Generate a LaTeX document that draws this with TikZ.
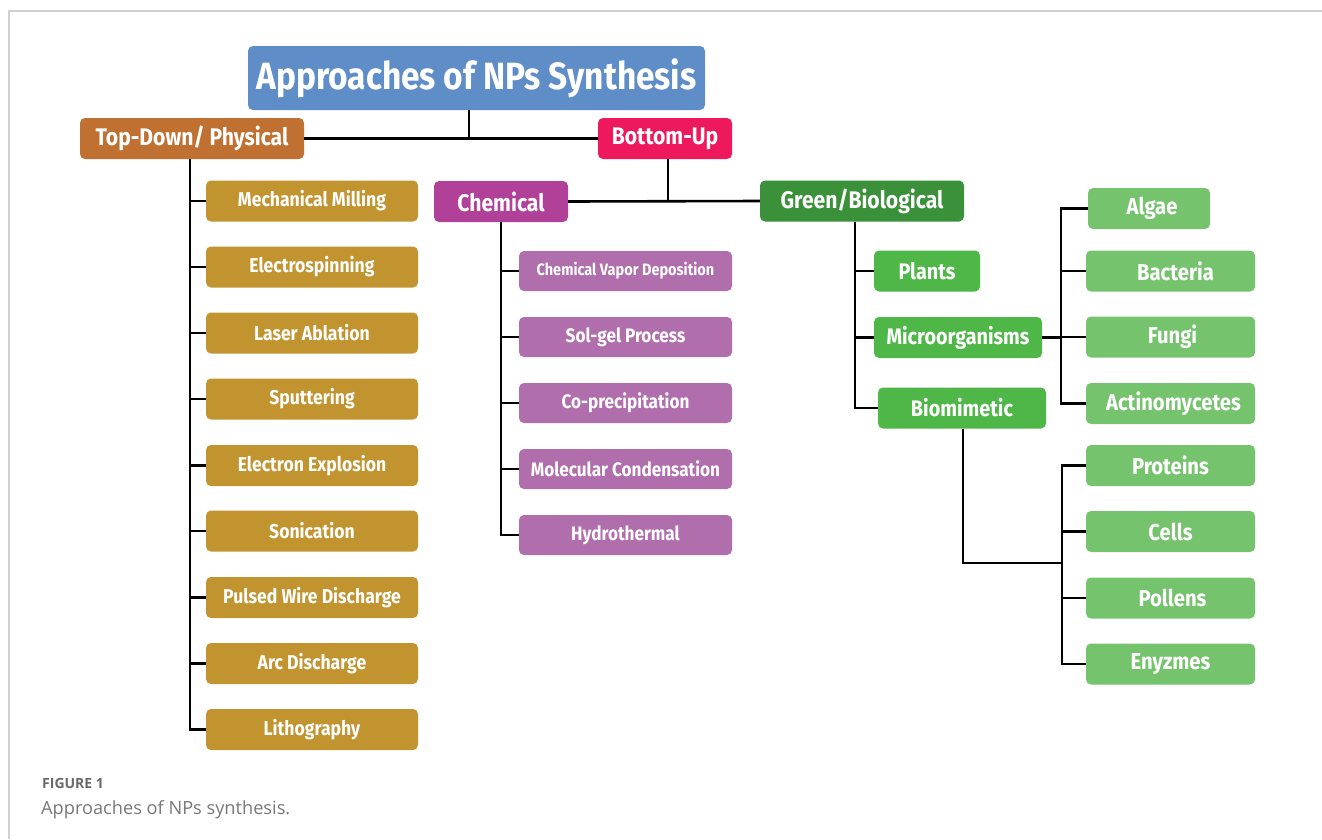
\documentclass[tikz,border=0pt]{standalone}
\usepackage{fontspec}
\setmainfont{Open Sans}
\newfontfamily\boxfont{Fira Sans}[FakeStretch=0.88]
\usetikzlibrary{positioning}

\definecolor{cTitle}{RGB}{95,141,200}
\definecolor{cTop}{RGB}{192,112,48}
\definecolor{cBottom}{RGB}{237,25,92}
\definecolor{cPhys}{RGB}{194,148,48}
\definecolor{cChem}{RGB}{176,64,152}
\definecolor{cChemItem}{RGB}{176,110,172}
\definecolor{cGreen}{RGB}{58,145,57}
\definecolor{cMid}{RGB}{78,183,72}
\definecolor{cLight}{RGB}{118,195,110}
\definecolor{cFrame}{RGB}{208,208,208}
\definecolor{cCap}{RGB}{105,105,105}

\tikzset{
  box/.style={rounded corners=5pt, text=white, inner sep=0pt, align=center,
              font=\boxfont\bfseries},
  titlebox/.style={box, fill=cTitle, minimum width=457, minimum height=64,
                   font=\boxfont\bfseries\fontsize{38}{40}\selectfont},
  headbox/.style={box, minimum height=41, font=\boxfont\bfseries\fontsize{24}{26}\selectfont},
  physbox/.style={box, fill=cPhys, minimum width=212, minimum height=41,
                  font=\boxfont\bfseries\fontsize{20}{22}\selectfont},
  chembox/.style={box, fill=cChemItem, minimum width=213, minimum height=40,
                  font=\boxfont\bfseries\fontsize{19.5}{22}\selectfont},
  greenbox/.style={box, fill=cMid, minimum height=41,
                   font=\boxfont\bfseries\fontsize{22.5}{24}\selectfont},
  leafbox/.style={box, fill=cLight, minimum width=169, minimum height=41,
                  font=\boxfont\bfseries\fontsize{23}{25}\selectfont},
  link/.style={draw=black, line width=2.6pt},
}

\begin{document}
\begin{tikzpicture}[x=1pt, y=-1pt]
  \useasboundingbox (0,0) rectangle (1322,839);

  % page frame
  \draw[cFrame, line width=1.2pt] (9,839) -- (9,11) -- (1322,11);

  % top levels
  \node[titlebox] (title) at (476.5,78) {Approaches of NPs Synthesis};
  \node[headbox, fill=cTop, minimum width=224] (td) at (192,138.5) {Top-Down/ Physical};
  \node[headbox, fill=cBottom, minimum width=134] (bu) at (665,138.5) {Bottom-Up};
  \node[headbox, fill=cChem, minimum width=134] (chem) at (501,201.5) {Chemical};
  \node[headbox, fill=cGreen, minimum width=204] (green) at (862,201) {Green/Biological};

  % physical methods
  \node[physbox] (p1) at (312,201) {Mechanical Milling};
  \node[physbox] (p2) at (312,267) {Electrospinning};
  \node[physbox] (p3) at (312,333) {Laser Ablation};
  \node[physbox] (p4) at (312,399) {Sputtering};
  \node[physbox] (p5) at (312,465.5) {Electron Explosion};
  \node[physbox] (p6) at (312,531) {Sonication};
  \node[physbox] (p7) at (312,597.5) {Pulsed Wire Discharge};
  \node[physbox] (p8) at (312,663.5) {Arc Discharge};
  \node[physbox] (p9) at (312,729.5) {Lithography};

  % chemical methods
  \node[chembox, font=\boxfont\bfseries\fontsize{16.5}{18}\selectfont] (c1) at (625.5,271) {Chemical Vapor Deposition};
  \node[chembox] (c2) at (625.5,337) {Sol-gel Process};
  \node[chembox] (c3) at (625.5,403) {Co-precipitation};
  \node[chembox] (c4) at (625.5,469) {Molecular Condensation};
  \node[chembox] (c5) at (625.5,535) {Hydrothermal};

  % biological routes
  \node[greenbox, minimum width=106] (plants) at (927,271) {Plants};
  \node[greenbox, minimum width=168] (micro) at (958,337.5) {Microorganisms};
  \node[greenbox, minimum width=168] (bio) at (962,408) {Biomimetic};

  % microorganisms
  \node[leafbox, minimum width=122] (algae) at (1149,208.5) {\hspace*{6pt}Algae};
  \node[leafbox] (bact) at (1170.5,271) {\hspace*{10pt}Bacteria};
  \node[leafbox] (fungi) at (1170.5,337) {\hspace*{4pt}Fungi};
  \node[leafbox] (actino) at (1170.5,403.5) {\hspace*{6pt}Actinomycetes};

  % biomimetic sources
  \node[leafbox] (prot) at (1170.5,465.5) {Proteins};
  \node[leafbox] (cells) at (1170.5,531.5) {Cells};
  \node[leafbox] (poll) at (1170.5,598) {\hspace*{4pt}Pollens};
  \node[leafbox] (enz) at (1170.5,664) {Enyzmes};

  % bus positions
  \coordinate (tdx) at (190,0);
  \coordinate (chx) at (501,0);
  \coordinate (grx) at (855,0);
  \coordinate (mix) at (1061,0);
  \coordinate (bix) at (1062,0);
  \coordinate (bimid) at (1062,563);

  % connectors: top levels
  \draw[link] ([xshift=-7.5pt]title.south) -- ([xshift=-7.5pt]title.south |- td.east);
  \draw[link] (td.east) -- (bu.west);
  \draw[link] ([xshift=3pt]bu.south) -- ([xshift=3pt]bu.south |- chem.east);
  \draw[link] (chem.east) -- (green.west);

  % connectors: physical
  \draw[link] (td.south -| tdx) |- (p9.west);
  \foreach \n in {p1,p2,p3,p4,p5,p6,p7,p8}
    \draw[link] (\n.west) -- (\n.west -| tdx);

  % connectors: chemical
  \draw[link] (chem.south -| chx) |- (c5.west);
  \foreach \n in {c1,c2,c3,c4}
    \draw[link] (\n.west) -- (\n.west -| chx);

  % connectors: biological
  \draw[link] (green.south -| grx) |- (bio.west);
  \draw[link] (plants.west) -- (plants.west -| grx);
  \draw[link] (micro.west) -- (micro.west -| grx);

  % connectors: microorganisms
  \draw[link] (micro.east) -- (micro.east -| mix);
  \draw[link] (algae.west) -- (algae.west -| mix) -- (mix |- actino.west) -- (actino.west);
  \draw[link] (bact.west) -- (bact.west -| mix);
  \draw[link] (fungi.west) -- (fungi.west -| mix);

  % connectors: biomimetic
  \draw[link] ([xshift=1pt]bio.south) |- (bimid);
  \draw[link] (prot.west) -- (prot.west -| bix) -- (bix |- enz.west) -- (enz.west);
  \draw[link] (cells.west) -- (cells.west -| bix);
  \draw[link] (poll.west) -- (poll.west -| bix);

  % caption
  \node[anchor=base west, inner sep=0pt, text=cCap, font=\fontsize{14}{16}\selectfont\bfseries] (figlbl) at (42,788) {FIGURE 1};
  \node[anchor=base west, inner sep=0pt, text=cCap!90, font=\fontsize{18.2}{20}\selectfont] (figcap) at (41,814) {Approaches of NPs synthesis.};
\end{tikzpicture}
\end{document}
